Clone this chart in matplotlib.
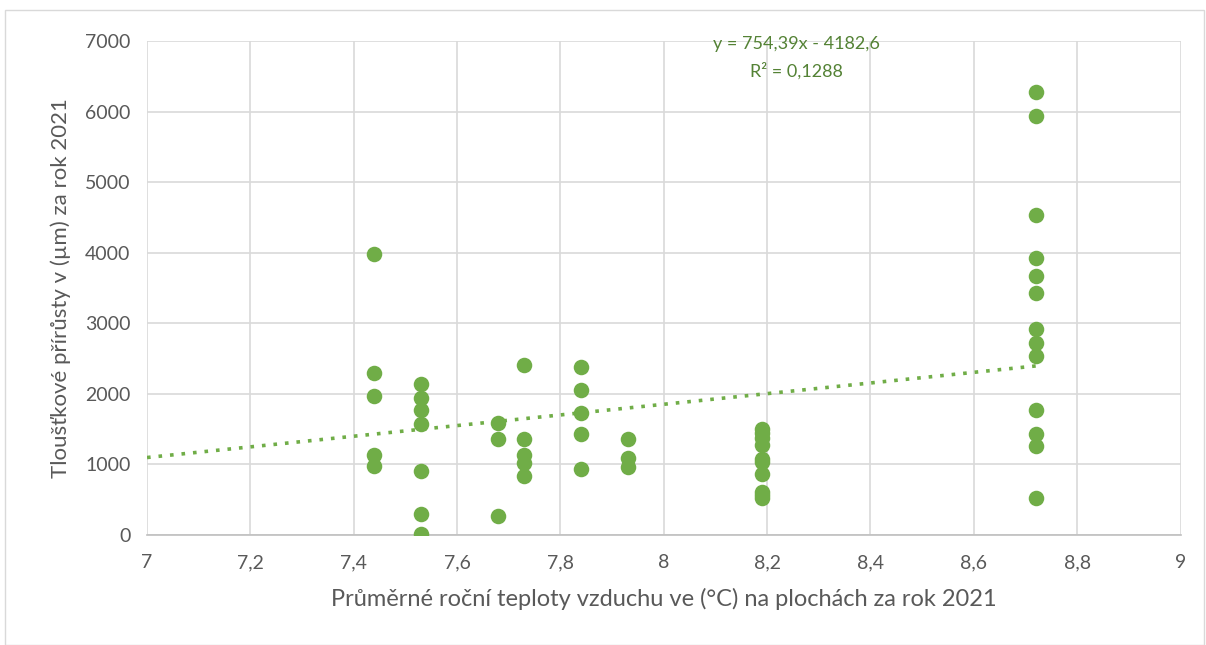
import matplotlib.pyplot as plt
from matplotlib.patches import Rectangle
from matplotlib.ticker import FuncFormatter

plt.rcParams["font.family"] = ["Lato", "DejaVu Sans"]

# Data: temperature (x) and increment (y)
teplota = ([7.44] * 5 + [7.53] * 7 + [7.68] * 3 + [7.73] * 5 + [7.84] * 5
           + [7.93] * 3 + [8.19] * 10 + [8.72] * 13)
prirusty = [3980, 2290, 1975, 1130, 985,
            2135, 1945, 1775, 1580, 910, 295, 10,
            1590, 1365, 275,
            2415, 1360, 1130, 1020, 840,
            2380, 2055, 1735, 1425, 935,
            1355, 1085, 965,
            1505, 1440, 1370, 1280, 1080, 1040, 865, 610, 570, 525,
            6275, 5935, 4535, 3920, 3675, 3425, 2915, 2715, 2535, 1770, 1425, 1265, 525]

# Excel linear trendline
slope = 754.39
intercept = -4182.6
r2 = 0.1288

green = "#70AD47"
text_green = "#548235"
grey = "#595959"

fig = plt.figure(figsize=(12.06, 6.45), dpi=100)
ax = fig.add_axes([0.1219, 0.1705, 0.857, 0.766])

ax.scatter(teplota, prirusty, s=125, color=green, zorder=3, linewidths=0)

tx = [7.0, max(teplota)]
ty = [slope * v + intercept for v in tx]
ax.plot(tx, ty, color=green, linestyle=(0, (1, 2.2)), linewidth=2.6, zorder=2)

ax.text(8.257, 6950, f"y = {slope:.2f}x - {abs(intercept):.1f}".replace(".", ","),
        ha="center", va="center", fontsize=13, color=text_green)
ax.text(8.257, 6570, f"R² = {r2:.4f}".replace(".", ","),
        ha="center", va="center", fontsize=13, color=text_green)

ax.set_xlim(7, 9)
ax.set_ylim(0, 7000)
ax.set_xticks([7 + 0.2 * i for i in range(11)])
ax.set_yticks(range(0, 7001, 1000))
ax.xaxis.set_major_formatter(FuncFormatter(lambda v, p: f"{v:g}".replace(".", ",")))

ax.grid(color="#D9D9D9", linewidth=1.2)
ax.set_axisbelow(True)
for s in ["top", "right", "left"]:
    ax.spines[s].set_visible(False)
ax.spines["bottom"].set_color("#BFBFBF")
ax.spines["bottom"].set_linewidth(1.2)
ax.tick_params(length=0, labelsize=14, colors=grey)
ax.tick_params(axis="x", pad=14)
ax.tick_params(axis="y", pad=12)

ax.set_xlabel("Průměrné roční teploty vzduchu ve (°C) na plochách za rok 2021",
              fontsize=17, color=grey, labelpad=12)
ax.set_ylabel("Tloušťkové přírůsty v (µm) za rok 2021", fontsize=16, color=grey, labelpad=10)

fig.patches.append(Rectangle((0.004, 0.0), 0.994, 0.985, transform=fig.transFigure,
                             fill=False, edgecolor="#D9D9D9", linewidth=1))

fig.savefig("out.png", dpi=100)
